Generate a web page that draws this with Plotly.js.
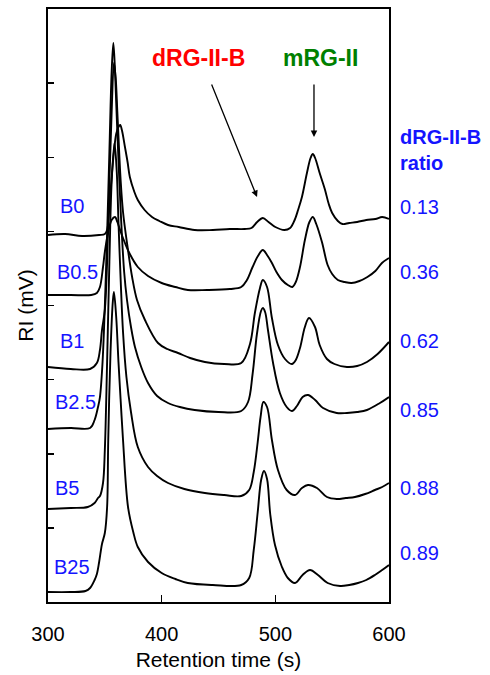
<!DOCTYPE html>
<html>
<head>
<meta charset="utf-8">
<script src="https://cdn.plot.ly/plotly-3.0.1.min.js"></script>
<style>html,body{margin:0;padding:0;background:#fff;}#chart{width:490px;height:675px;}</style>
</head>
<body>
<div id="chart"></div>
<script>
// ---- data (RI signal, stacked, arbitrary units; x = retention time in s) ----
const samples = ['B0', 'B0.5', 'B1', 'B2.5', 'B5', 'B25'];
const ratios = ['0.13', '0.36', '0.62', '0.85', '0.88', '0.89'];
const xTicks = [300, 400, 500, 600];

const tB0 = [300, 315, 330, 345, 350, 352, 354, 356, 358, 360, 362, 363.5, 365, 367.7, 370, 372, 376, 379, 385, 391.5, 398, 405.6, 415, 429, 445, 460, 473, 479, 484, 489, 494, 500, 508, 513, 517, 520, 523.4, 527.8, 531, 533, 535, 539, 543.5, 547, 550, 555, 559, 565, 572, 580, 588, 594, 600];
const riB0 = [367, 368, 366, 367, 368, 372, 395, 425, 450, 468, 475, 477, 472, 455, 440, 425, 410, 402, 392, 385, 381, 377, 375, 372, 372, 373, 373, 374, 380, 384, 380, 375, 372, 374, 382, 392, 405, 429, 444, 448, 444, 429, 413, 398, 389, 381, 378, 379, 380, 382, 383, 385, 383];

const tB05 = [300, 320, 338, 343, 345.7, 348.4, 350, 353, 356, 359, 361, 364, 367.7, 372, 379, 388, 400, 412, 423, 440, 460, 470, 475, 480, 484.7, 489, 492.7, 497, 501, 505.8, 511, 515, 518, 521.7, 526, 530, 533, 536, 541, 546, 550, 555, 561, 567, 574, 581, 588, 593.8, 600];
const riB05 = [307, 307, 307, 309, 315, 335, 350, 370, 382, 385, 380, 370, 359, 348, 335, 326, 319, 315, 312, 312, 313, 315, 322, 335, 346, 352, 347, 339, 330, 322, 317, 315, 320, 335, 362, 380, 385, 378, 360, 337, 328, 322, 320, 319, 321, 325, 331, 339, 344];

const tB1 = [300, 320, 337, 343, 345.7, 347.5, 350, 352, 354, 356, 358, 359.5, 361, 364, 366, 370, 374, 378.3, 385.3, 396.8, 405, 414.4, 425, 438, 455, 470, 477.7, 482, 486.5, 489, 492.7, 497, 502.3, 508.5, 514.6, 518, 521.7, 526, 529.6, 534.9, 539, 545.4, 552, 563, 572, 580.6, 590, 600];
const riB1 = [235, 233, 233, 239, 252, 272, 292, 340, 420, 490, 539, 525, 490, 420, 390, 355, 325, 302, 282, 259, 253, 249, 244, 240, 238, 239, 258, 289, 314, 322, 315, 284, 257, 243, 238, 242, 254, 275, 284, 275, 257, 243, 238, 235, 236, 240, 248, 260];

const tB25 = [300, 320, 337, 341, 344, 345.7, 348, 351, 354, 356, 357.5, 359, 361, 364, 367, 369.5, 373, 376.5, 382, 388, 396, 405.6, 416, 429, 450, 470, 476, 480, 483.8, 487.4, 489, 491, 493.5, 498, 504, 510, 514.6, 519, 524, 528.7, 535, 542, 554, 563, 572, 580.6, 592, 600];
const riB25 = [173, 174, 174, 182, 195, 205, 240, 330, 450, 530, 559, 530, 470, 390, 330, 302, 275, 255, 235, 219, 206, 199, 195, 192, 190, 191, 200, 228, 268, 291, 294, 290, 272, 239, 209, 195, 191, 196, 205, 207, 202, 194, 189, 189, 190, 192, 199, 205];

const tB5 = [300, 320, 335, 341, 344, 345.7, 348.4, 350, 352, 354, 356, 358.5, 360.5, 362, 364, 366, 369, 373, 379, 388, 396, 405.6, 420, 438, 455, 470, 477, 481, 484.5, 487, 489.5, 492.7, 497, 502.3, 510, 517.3, 523.4, 528.7, 536.6, 545.4, 554, 562, 570, 579, 587.6, 594, 600];
const riB5 = [93, 94, 95, 99, 104, 106, 119, 152, 240, 340, 420, 459, 430, 380, 320, 270, 225, 190, 155, 135, 126, 119, 113, 109, 107, 106, 112, 130, 160, 185, 200, 195, 162, 132, 112, 107, 114, 117, 114, 105, 103, 104, 105, 108, 112, 115, 119];

const tB25b = [300, 320, 333, 337, 341, 343, 345, 347.5, 350, 352, 353, 355, 357, 358, 360, 362, 364, 366, 370.4, 375, 379, 388, 400, 412, 423, 445, 470, 477, 481, 484.5, 487.5, 490, 492.7, 495.5, 499.7, 505.8, 511, 517.3, 524, 530.5, 537.5, 546, 557, 565, 572.7, 580, 587.6, 594, 600];
const riB25b = [10, 10, 11, 14, 22, 28, 40, 58, 69, 95, 162, 250, 300, 310, 285, 240, 200, 162, 95, 70, 55, 40, 29, 23, 19, 17, 17, 24, 52, 90, 122, 131, 123, 88, 57, 35, 24, 19, 27, 32, 27, 19, 16, 17, 19, 22, 27, 32, 37];

const times = [tB0, tB05, tB1, tB25, tB5, tB25b];
const signals = [riB0, riB05, riB1, riB25, riB5, riB25b];

// ---- layout positions (paper coords) ----
const labelLeftX = [0.0293, 0.0205, 0.0293, 0.0147, 0.0147, 0.0117];
const labelLeftY = [0.6678, 0.5565, 0.4401, 0.3373, 0.1922, 0.0590];
const ratioY = [0.6661, 0.5565, 0.4401, 0.3238, 0.1922, 0.0826];

const FONT = 'Liberation Sans, Arial, sans-serif';
const BLUE = 'rgb(20,20,255)';

const traces = samples.map((s, i) => ({
  type: 'scatter', mode: 'lines', name: s,
  x: times[i], y: signals[i],
  line: {color: 'black', width: 1.9, shape: 'spline', smoothing: 1},
  hoverinfo: 'skip'
}));

const annotations = [];
samples.forEach((s, i) => {
  annotations.push({xref: 'paper', yref: 'paper', x: labelLeftX[i], y: labelLeftY[i],
    xanchor: 'left', yanchor: 'middle', text: s, showarrow: false,
    font: {family: FONT, size: 20, color: BLUE}});
  annotations.push({xref: 'paper', yref: 'paper', x: 1.0264, y: ratioY[i],
    xanchor: 'left', yanchor: 'middle', text: ratios[i], showarrow: false,
    font: {family: FONT, size: 20, color: BLUE}});
});
annotations.push({xref: 'paper', yref: 'paper', x: 1.0264, y: 0.7622, xanchor: 'left', yanchor: 'middle',
  align: 'left', text: '<b>dRG-II-B</b><br><b>ratio</b>', showarrow: false,
  font: {family: FONT, size: 20, color: BLUE}});
annotations.push({xref: 'paper', yref: 'paper', x: 0.4413, y: 0.9174, xanchor: 'center', yanchor: 'middle',
  text: '<b>dRG-II-B</b>', showarrow: false, font: {family: FONT, size: 23, color: 'rgb(255,0,0)'}});
annotations.push({xref: 'paper', yref: 'paper', x: 0.7977, y: 0.9174, xanchor: 'center', yanchor: 'middle',
  text: '<b>mRG-II</b>', showarrow: false, font: {family: FONT, size: 23, color: 'rgb(0,128,0)'}});
// arrows
annotations.push({xref: 'x', yref: 'y', x: 534, y: 465, ax: 0, ay: -54, text: '', showarrow: true,
  arrowhead: 2, arrowsize: 1, arrowwidth: 1.3, arrowcolor: 'black', standoff: 0});
annotations.push({xref: 'x', yref: 'y', x: 483.9, y: 405, ax: -46, ay: -114, text: '', showarrow: true,
  arrowhead: 2, arrowsize: 1, arrowwidth: 1.3, arrowcolor: 'black', standoff: 0});

const yTickVals = [1, 2, 3, 4, 5, 6, 7].map(k => k * 593 / 8);

const layout = {
  width: 490, height: 675,
  margin: {l: 48, r: 101, t: 9, b: 73},
  paper_bgcolor: 'white', plot_bgcolor: 'white',
  showlegend: false,
  font: {family: FONT, color: 'black'},
  xaxis: {
    range: [300, 600], tickvals: xTicks, ticktext: xTicks.map(String),
    ticks: 'inside', ticklen: 7, tickwidth: 1.5, tickcolor: 'black',
    showline: true, mirror: true, linecolor: 'black', linewidth: 2,
    showgrid: false, zeroline: false,
    tickfont: {family: FONT, size: 20, color: 'black'},
    ticklabelstandoff: 13,
    title: {text: 'Retention time (s)', font: {family: FONT, size: 21, color: 'black'}, standoff: 8}
  },
  yaxis: {
    range: [0, 593], tickvals: yTickVals, showticklabels: false,
    ticks: 'inside', ticklen: 6, tickwidth: 1.5, tickcolor: 'black',
    showline: true, mirror: true, linecolor: 'black', linewidth: 2,
    showgrid: false, zeroline: false,
    title: {text: 'RI (mV)', font: {family: FONT, size: 21, color: 'black'}, standoff: 7}
  },
  annotations: annotations
};

Plotly.newPlot('chart', traces, layout, {displayModeBar: false, staticPlot: true});
</script>
</body>
</html>
